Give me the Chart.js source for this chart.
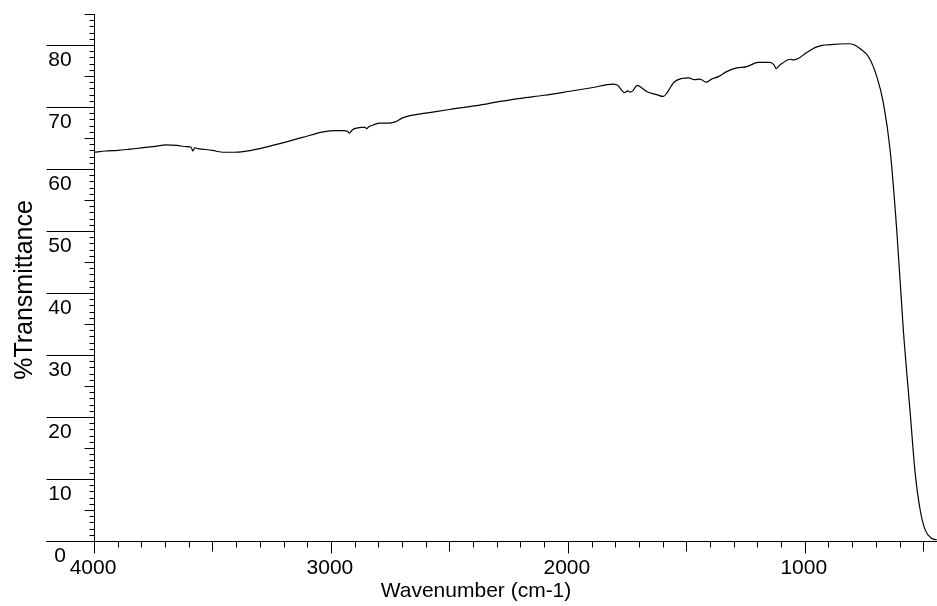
<!DOCTYPE html>
<html lang="en">
<head>
  <meta charset="UTF-8">
  <title>IR Spectrum - %Transmittance</title>
  <script src="https://cdn.jsdelivr.net/npm/chart.js"></script>
  <style>
    body {
      margin: 0;
      background: #ffffff;
    }
    .chart-box {
      width: 937px;
      height: 606px;
    }
  </style>
</head>
<body>

  <div class="chart-box"><canvas id="irChart"></canvas></div>

  <script>
    // spectrum (cm-1 / %T)
    const wavenumbers = [
      4000, 3950, 3900, 3848, 3800, 3750, 3693, 3650, 3609, 3590, 3583, 3575, 3560, 3500, 3454, 3410,
      3370, 3300, 3215, 3120, 3032, 2980, 2948, 2930, 2922, 2910, 2891, 2870, 2856, 2849, 2840, 2821,
      2793, 2760, 2729, 2700, 2666, 2600, 2500, 2371, 2286, 2200, 2100, 1998, 1900, 1808, 1795, 1787,
      1775, 1761, 1748, 1737, 1726, 1707, 1685, 1667, 1625, 1597, 1583, 1565, 1552, 1519, 1491, 1467,
      1442, 1417, 1393, 1365, 1330, 1287, 1245, 1196, 1147, 1130, 1121, 1110, 1097, 1062, 1048, 1020,
      999, 949, 879, 816, 790, 766, 731, 696, 668, 640, 612, 584, 555, 534, 513, 492, 464, 443
    ];
    const transmittance = [
      62.7, 62.9, 63.0, 63.2, 63.4, 63.6, 63.9, 63.8, 63.6, 63.5, 62.9, 63.4, 63.3, 63.0, 62.7, 62.7,
      62.8, 63.3, 64.1, 65.1, 66.0, 66.2, 66.2, 66.1, 65.8, 66.3, 66.6, 66.7, 66.7, 66.5, 66.8, 67.1,
      67.4, 67.4, 67.6, 68.2, 68.6, 69.0, 69.6, 70.3, 70.9, 71.4, 71.9, 72.5, 73.1, 73.7, 73.6, 73.4,
      72.8, 72.3, 72.6, 72.4, 72.6, 73.5, 73.0, 72.5, 72.0, 71.7, 72.2, 73.3, 74.0, 74.6, 74.7, 74.4,
      74.5, 74.0, 74.5, 74.9, 75.7, 76.3, 76.5, 77.2, 77.2, 76.8, 76.2, 76.6, 77.0, 77.7, 77.6, 78.0,
      78.6, 79.7, 80.1, 80.2, 80.0, 79.4, 78.1, 74.9, 70.6, 63.1, 50.2, 34.0, 20.6, 10.9, 5.0, 1.8, 0.4, 0.2
    ];
    const yTickLabels = [0, 10, 20, 30, 40, 50, 60, 70, 80];
    const xTickLabels = [4000, 3000, 2000, 1000];

    const points = wavenumbers.map((w, i) => ({ x: w, y: transmittance[i] }));

    const FONT = '"Liberation Sans", Arial, sans-serif';

    // axes drawn by hand so the ticks look like the spectrometer printout
    const irAxes = {
      id: 'irAxes',
      afterDraw(chart) {
        const ctx = chart.ctx;
        const xs = chart.scales.x;
        const ys = chart.scales.y;
        const area = chart.chartArea;
        const x0 = Math.round(xs.getPixelForValue(4000)) + 0.5;
        const yb = Math.round(ys.getPixelForValue(0)) + 0.5;

        ctx.save();
        ctx.strokeStyle = '#000000';
        ctx.lineWidth = 1;
        ctx.beginPath();
        // y axis
        ctx.moveTo(x0, Math.round(area.top));
        ctx.lineTo(x0, yb);
        // y ticks every 1 %
        for (let v = 0; v <= 85; v++) {
          const py = Math.round(ys.getPixelForValue(v)) + 0.5;
          let len = 5;
          if (v % 10 === 0) len = 48;
          else if (v % 5 === 0) len = 10;
          ctx.moveTo(x0 - len, py);
          ctx.lineTo(x0, py);
        }
        // x axis
        ctx.moveTo(x0 - 48, yb);
        ctx.lineTo(area.right, yb);
        // x ticks every 100 cm-1
        for (let w = 4000; w >= xs.min; w -= 100) {
          const px = Math.round(xs.getPixelForValue(w)) + 0.5;
          let len = 6;
          if (w % 1000 === 0) len = 12;
          else if (w % 500 === 0) len = 10;
          ctx.moveTo(px, yb);
          ctx.lineTo(px, yb + len);
        }
        ctx.stroke();

        ctx.fillStyle = '#000000';
        ctx.font = '21px ' + FONT;
        ctx.textAlign = 'center';
        ctx.textBaseline = 'alphabetic';
        yTickLabels.forEach(v => {
          const py = ys.getPixelForValue(v);
          ctx.fillText(String(v), 60, py + 21);
        });
        xTickLabels.forEach(w => {
          const px = xs.getPixelForValue(w);
          ctx.fillText(String(w), px - 1, yb + 32);
        });

        // axis titles
        ctx.font = '21px ' + FONT;
        ctx.fillText('Wavenumber (cm-1)', 476, 597);
        ctx.save();
        ctx.translate(32, 290);
        ctx.rotate(-Math.PI / 2);
        ctx.font = '25px ' + FONT;
        ctx.fillText('%Transmittance', 0, 0);
        ctx.restore();
        ctx.restore();
      }
    };

    new Chart(document.getElementById('irChart'), {
      type: 'line',
      data: {
        datasets: [{
          label: '%Transmittance',
          data: points,
          borderColor: '#000000',
          borderWidth: 1.2,
          pointRadius: 0,
          cubicInterpolationMode: 'monotone',
          fill: false
        }]
      },
      options: {
        responsive: true,
        maintainAspectRatio: false,
        animation: false,
        layout: { padding: { left: 94, top: 14, right: 0, bottom: 65 } },
        plugins: {
          legend: { display: false },
          tooltip: { enabled: false }
        },
        scales: {
          x: { type: 'linear', reverse: true, min: 442, max: 4000, display: false },
          y: { min: 0, max: 85, display: false }
        }
      },
      plugins: [irAxes]
    });
  </script>

</body>
</html>
